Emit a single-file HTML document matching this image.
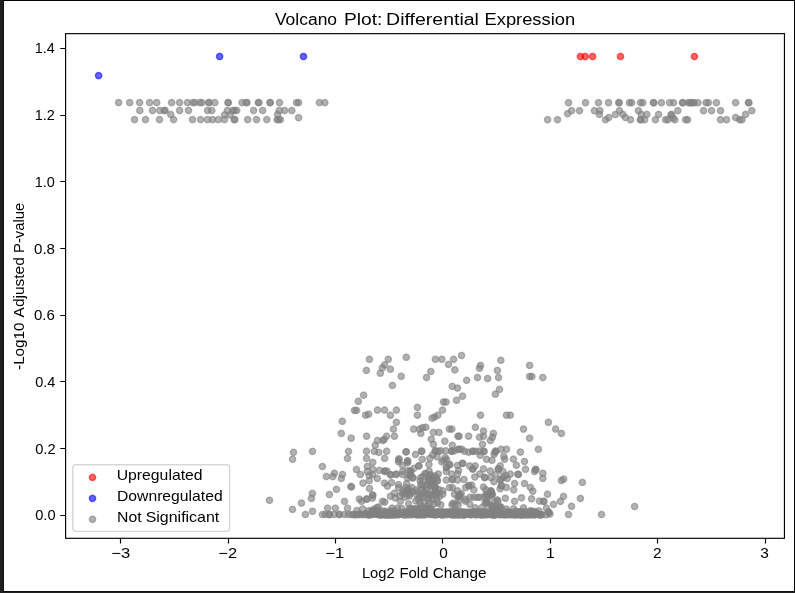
<!DOCTYPE html>
<html lang="en">
<head>
<meta charset="utf-8">
<title>Volcano Plot: Differential Expression</title>
<style>
html,body{margin:0;padding:0;background:#202020;}
body{width:795px;height:593px;overflow:hidden;}
svg{display:block;}
svg text{font-family:"Liberation Sans", sans-serif;fill:#000;}
.tx{filter:grayscale(1);}
</style>
</head>
<body>
<svg width="795" height="593" viewBox="0 0 795 593">
<!-- viewer background + image frame -->
<rect x="0" y="0" width="795" height="593" fill="#202020"/>
<rect x="3" y="0" width="792" height="592" fill="#111111"/>
<rect x="3" y="0" width="792" height="1" fill="#030303"/>
<rect x="794" y="0" width="1" height="592" fill="#030303"/>
<rect x="4" y="1" width="790" height="590" fill="#ffffff"/>

<g fill="none" stroke="#000" stroke-width="1.15">
<rect x="65.6" y="33.65" width="718.85" height="504.65"/>
<path d="M120.5 538.3v5.3M228.5 538.3v5.3M335.5 538.3v5.3M442.5 538.3v5.3M550.5 538.3v5.3M657.5 538.3v5.3M765.5 538.3v5.3M65.6 515.5h-5.3M65.6 448.5h-5.3M65.6 381.5h-5.3M65.6 315.5h-5.3M65.6 248.5h-5.3M65.6 181.5h-5.3M65.6 115.5h-5.3M65.6 48.5h-5.3"/>
</g>
<g class="tx" font-size="14.40">
<text transform="matrix(1.1508 0 0 1 111.27 557.9)">−3</text>
<text transform="matrix(1.1418 0 0 1 218.33 557.9)">−2</text>
<text transform="matrix(1.1418 0 0 1 325.33 557.9)">−1</text>
<text transform="matrix(1.0706 0 0 1 439.18 557.9)">0</text>
<text transform="matrix(1.0982 0 0 1 545.98 557.9)">1</text>
<text transform="matrix(1.0719 0 0 1 653.03 557.9)">2</text>
<text transform="matrix(1.0712 0 0 1 760.23 557.9)">3</text>
<text transform="matrix(1.0178 0 0 1 35.21 519.9)">0.0</text>
<text transform="matrix(1.0203 0 0 1 35.21 453.9)">0.2</text>
<text transform="matrix(1.0101 0 0 1 35.22 386.9)">0.4</text>
<text transform="matrix(1.0417 0 0 1 34.00 319.9)">0.6</text>
<text transform="matrix(1.0496 0 0 1 34.00 253.9)">0.8</text>
<text transform="matrix(1.0034 0 0 1 34.64 186.9)">1.0</text>
<text transform="matrix(1.0058 0 0 1 34.64 119.9)">1.2</text>
<text transform="matrix(0.9983 0 0 1 34.65 52.9)">1.4</text>
</g>
<text class="tx" y="24.75" font-size="17.3"><tspan x="274.93" textLength="62.15" lengthAdjust="spacingAndGlyphs">Volcano</tspan> <tspan x="343.96" textLength="38.49" lengthAdjust="spacingAndGlyphs">Plot:</tspan> <tspan x="386.14" textLength="92.76" lengthAdjust="spacingAndGlyphs">Differential</tspan> <tspan x="484.54" textLength="90.59" lengthAdjust="spacingAndGlyphs">Expression</tspan></text>
<text class="tx" y="577.8" font-size="14.4"><tspan x="361.92" textLength="32.78" lengthAdjust="spacingAndGlyphs">Log2</tspan> <tspan x="399.51" textLength="28.96" lengthAdjust="spacingAndGlyphs">Fold</tspan> <tspan x="432.73" textLength="53.73" lengthAdjust="spacingAndGlyphs">Change</tspan></text>
<text class="tx" transform="translate(24.0 369.3) rotate(-90)" font-size="14.4"><tspan x="-0.61" textLength="47.38" lengthAdjust="spacingAndGlyphs">-Log10</tspan> <tspan x="51.90" textLength="60.15" lengthAdjust="spacingAndGlyphs">Adjusted</tspan> <tspan x="116.42" textLength="50.08" lengthAdjust="spacingAndGlyphs">P-value</tspan></text>
<defs><radialGradient id="mg" cx=".5" cy=".5" r=".5"><stop offset="0.0000" stop-color="#808080" stop-opacity="0.600"/><stop offset="0.0556" stop-color="#808080" stop-opacity="0.600"/><stop offset="0.1111" stop-color="#808080" stop-opacity="0.600"/><stop offset="0.1667" stop-color="#808080" stop-opacity="0.600"/><stop offset="0.2222" stop-color="#808080" stop-opacity="0.600"/><stop offset="0.2778" stop-color="#808080" stop-opacity="0.600"/><stop offset="0.3333" stop-color="#808080" stop-opacity="0.600"/><stop offset="0.3889" stop-color="#808080" stop-opacity="0.600"/><stop offset="0.4444" stop-color="#808080" stop-opacity="0.623"/><stop offset="0.5000" stop-color="#808080" stop-opacity="0.683"/><stop offset="0.5556" stop-color="#808080" stop-opacity="0.748"/><stop offset="0.6111" stop-color="#808080" stop-opacity="0.774"/><stop offset="0.6667" stop-color="#808080" stop-opacity="0.743"/><stop offset="0.7222" stop-color="#808080" stop-opacity="0.669"/><stop offset="0.7778" stop-color="#808080" stop-opacity="0.507"/><stop offset="0.8333" stop-color="#808080" stop-opacity="0.325"/><stop offset="0.8889" stop-color="#808080" stop-opacity="0.162"/><stop offset="0.9444" stop-color="#808080" stop-opacity="0.033"/><stop offset="1.0000" stop-color="#808080" stop-opacity="0.000"/></radialGradient><radialGradient id="mr" cx=".5" cy=".5" r=".5"><stop offset="0.0000" stop-color="#ff0000" stop-opacity="0.600"/><stop offset="0.0556" stop-color="#ff0000" stop-opacity="0.600"/><stop offset="0.1111" stop-color="#ff0000" stop-opacity="0.600"/><stop offset="0.1667" stop-color="#ff0000" stop-opacity="0.600"/><stop offset="0.2222" stop-color="#ff0000" stop-opacity="0.600"/><stop offset="0.2778" stop-color="#ff0000" stop-opacity="0.600"/><stop offset="0.3333" stop-color="#ff0000" stop-opacity="0.600"/><stop offset="0.3889" stop-color="#ff0000" stop-opacity="0.600"/><stop offset="0.4444" stop-color="#ff0000" stop-opacity="0.623"/><stop offset="0.5000" stop-color="#ff0000" stop-opacity="0.683"/><stop offset="0.5556" stop-color="#ff0000" stop-opacity="0.748"/><stop offset="0.6111" stop-color="#ff0000" stop-opacity="0.774"/><stop offset="0.6667" stop-color="#ff0000" stop-opacity="0.743"/><stop offset="0.7222" stop-color="#ff0000" stop-opacity="0.669"/><stop offset="0.7778" stop-color="#ff0000" stop-opacity="0.507"/><stop offset="0.8333" stop-color="#ff0000" stop-opacity="0.325"/><stop offset="0.8889" stop-color="#ff0000" stop-opacity="0.162"/><stop offset="0.9444" stop-color="#ff0000" stop-opacity="0.033"/><stop offset="1.0000" stop-color="#ff0000" stop-opacity="0.000"/></radialGradient><radialGradient id="mb" cx=".5" cy=".5" r=".5"><stop offset="0.0000" stop-color="#0000ff" stop-opacity="0.600"/><stop offset="0.0556" stop-color="#0000ff" stop-opacity="0.600"/><stop offset="0.1111" stop-color="#0000ff" stop-opacity="0.600"/><stop offset="0.1667" stop-color="#0000ff" stop-opacity="0.600"/><stop offset="0.2222" stop-color="#0000ff" stop-opacity="0.600"/><stop offset="0.2778" stop-color="#0000ff" stop-opacity="0.600"/><stop offset="0.3333" stop-color="#0000ff" stop-opacity="0.600"/><stop offset="0.3889" stop-color="#0000ff" stop-opacity="0.600"/><stop offset="0.4444" stop-color="#0000ff" stop-opacity="0.623"/><stop offset="0.5000" stop-color="#0000ff" stop-opacity="0.683"/><stop offset="0.5556" stop-color="#0000ff" stop-opacity="0.748"/><stop offset="0.6111" stop-color="#0000ff" stop-opacity="0.774"/><stop offset="0.6667" stop-color="#0000ff" stop-opacity="0.743"/><stop offset="0.7222" stop-color="#0000ff" stop-opacity="0.669"/><stop offset="0.7778" stop-color="#0000ff" stop-opacity="0.507"/><stop offset="0.8333" stop-color="#0000ff" stop-opacity="0.325"/><stop offset="0.8889" stop-color="#0000ff" stop-opacity="0.162"/><stop offset="0.9444" stop-color="#0000ff" stop-opacity="0.033"/><stop offset="1.0000" stop-color="#0000ff" stop-opacity="0.000"/></radialGradient></defs>
<g class="pt" fill="url(#mr)"><circle cx="580.4" cy="56.5" r="4.5"/><circle cx="585.2" cy="56.5" r="4.5"/><circle cx="592.6" cy="56.5" r="4.5"/><circle cx="620.5" cy="56.5" r="4.5"/><circle cx="694.4" cy="56.5" r="4.5"/></g>
<g class="pt" fill="url(#mb)"><circle cx="98.6" cy="75.6" r="4.5"/><circle cx="219.6" cy="56.5" r="4.5"/><circle cx="303.5" cy="56.5" r="4.5"/></g>
<g class="pt" fill="url(#mg)"><circle cx="118.6" cy="102.6" r="4.5"/><circle cx="129.7" cy="102.6" r="4.5"/><circle cx="139.6" cy="102.6" r="4.5"/><circle cx="149.6" cy="102.6" r="4.5"/><circle cx="156.7" cy="102.6" r="4.5"/><circle cx="171.6" cy="102.6" r="4.5"/><circle cx="179.6" cy="102.6" r="4.5"/><circle cx="187.5" cy="102.6" r="4.5"/><circle cx="192.8" cy="102.6" r="4.5"/><circle cx="194.8" cy="102.6" r="4.5"/><circle cx="199.8" cy="102.6" r="4.5"/><circle cx="201.8" cy="102.6" r="4.5"/><circle cx="208.7" cy="102.6" r="4.5"/><circle cx="209.1" cy="102.6" r="4.5"/><circle cx="214.8" cy="102.6" r="4.5"/><circle cx="228.0" cy="102.6" r="4.5"/><circle cx="228.3" cy="102.6" r="4.5"/><circle cx="242.1" cy="102.6" r="4.5"/><circle cx="246.2" cy="102.6" r="4.5"/><circle cx="247.0" cy="102.6" r="4.5"/><circle cx="258.4" cy="102.6" r="4.5"/><circle cx="258.8" cy="102.6" r="4.5"/><circle cx="269.9" cy="102.6" r="4.5"/><circle cx="270.3" cy="102.6" r="4.5"/><circle cx="279.5" cy="102.6" r="4.5"/><circle cx="296.5" cy="102.6" r="4.5"/><circle cx="298.6" cy="102.6" r="4.5"/><circle cx="319.4" cy="102.6" r="4.5"/><circle cx="324.8" cy="102.6" r="4.5"/><circle cx="139.8" cy="110.5" r="4.5"/><circle cx="152.5" cy="110.5" r="4.5"/><circle cx="159.8" cy="110.5" r="4.5"/><circle cx="164.2" cy="110.5" r="4.5"/><circle cx="165.1" cy="110.5" r="4.5"/><circle cx="179.6" cy="110.5" r="4.5"/><circle cx="188.5" cy="110.5" r="4.5"/><circle cx="207.6" cy="110.5" r="4.5"/><circle cx="211.8" cy="110.5" r="4.5"/><circle cx="227.5" cy="110.5" r="4.5"/><circle cx="232.7" cy="110.5" r="4.5"/><circle cx="234.7" cy="110.5" r="4.5"/><circle cx="236.7" cy="110.5" r="4.5"/><circle cx="253.6" cy="110.5" r="4.5"/><circle cx="262.6" cy="110.5" r="4.5"/><circle cx="279.3" cy="110.5" r="4.5"/><circle cx="284.6" cy="110.5" r="4.5"/><circle cx="291.8" cy="110.5" r="4.5"/><circle cx="170.7" cy="114.5" r="4.5"/><circle cx="224.5" cy="114.9" r="4.5"/><circle cx="230.2" cy="114.9" r="4.5"/><circle cx="277.6" cy="114.4" r="4.5"/><circle cx="298.6" cy="117.7" r="4.5"/><circle cx="134.5" cy="119.6" r="4.5"/><circle cx="145.5" cy="119.6" r="4.5"/><circle cx="159.5" cy="119.6" r="4.5"/><circle cx="173.6" cy="119.6" r="4.5"/><circle cx="192.5" cy="119.6" r="4.5"/><circle cx="200.6" cy="119.6" r="4.5"/><circle cx="207.5" cy="119.6" r="4.5"/><circle cx="212.6" cy="119.6" r="4.5"/><circle cx="218.3" cy="119.6" r="4.5"/><circle cx="224.5" cy="119.6" r="4.5"/><circle cx="234.2" cy="119.6" r="4.5"/><circle cx="234.8" cy="119.6" r="4.5"/><circle cx="247.7" cy="119.6" r="4.5"/><circle cx="256.5" cy="119.6" r="4.5"/><circle cx="266.8" cy="119.6" r="4.5"/><circle cx="277.1" cy="119.6" r="4.5"/><circle cx="278.6" cy="119.6" r="4.5"/><circle cx="280.4" cy="119.6" r="4.5"/><circle cx="568.5" cy="102.7" r="4.5"/><circle cx="585.5" cy="102.7" r="4.5"/><circle cx="598.5" cy="102.7" r="4.5"/><circle cx="608.5" cy="102.7" r="4.5"/><circle cx="618.8" cy="102.7" r="4.5"/><circle cx="619.1" cy="102.7" r="4.5"/><circle cx="629.4" cy="102.7" r="4.5"/><circle cx="631.6" cy="102.7" r="4.5"/><circle cx="640.5" cy="102.7" r="4.5"/><circle cx="642.8" cy="102.7" r="4.5"/><circle cx="653.4" cy="102.7" r="4.5"/><circle cx="653.8" cy="102.7" r="4.5"/><circle cx="661.4" cy="102.7" r="4.5"/><circle cx="669.6" cy="102.7" r="4.5"/><circle cx="673.5" cy="102.7" r="4.5"/><circle cx="682.4" cy="102.7" r="4.5"/><circle cx="682.9" cy="102.7" r="4.5"/><circle cx="688.4" cy="102.7" r="4.5"/><circle cx="691.2" cy="102.7" r="4.5"/><circle cx="694.1" cy="102.7" r="4.5"/><circle cx="697.9" cy="102.7" r="4.5"/><circle cx="706.1" cy="102.7" r="4.5"/><circle cx="708.4" cy="102.7" r="4.5"/><circle cx="716.4" cy="102.7" r="4.5"/><circle cx="735.6" cy="102.7" r="4.5"/><circle cx="748.4" cy="102.7" r="4.5"/><circle cx="748.9" cy="102.7" r="4.5"/><circle cx="571.6" cy="110.7" r="4.5"/><circle cx="579.5" cy="110.7" r="4.5"/><circle cx="594.4" cy="110.7" r="4.5"/><circle cx="599.8" cy="110.7" r="4.5"/><circle cx="619.5" cy="110.7" r="4.5"/><circle cx="638.4" cy="110.7" r="4.5"/><circle cx="677.8" cy="110.7" r="4.5"/><circle cx="703.5" cy="110.7" r="4.5"/><circle cx="711.5" cy="110.7" r="4.5"/><circle cx="720.5" cy="110.7" r="4.5"/><circle cx="751.8" cy="110.7" r="4.5"/><circle cx="567.6" cy="113.7" r="4.5"/><circle cx="599.4" cy="114.4" r="4.5"/><circle cx="615.4" cy="114.5" r="4.5"/><circle cx="622.8" cy="114.4" r="4.5"/><circle cx="608.8" cy="117.5" r="4.5"/><circle cx="605.5" cy="119.7" r="4.5"/><circle cx="547.6" cy="119.7" r="4.5"/><circle cx="557.5" cy="119.7" r="4.5"/><circle cx="625.4" cy="117.5" r="4.5"/><circle cx="630.5" cy="119.7" r="4.5"/><circle cx="641.2" cy="114.4" r="4.5"/><circle cx="646.8" cy="114.4" r="4.5"/><circle cx="640.4" cy="119.7" r="4.5"/><circle cx="640.8" cy="119.7" r="4.5"/><circle cx="644.6" cy="119.7" r="4.5"/><circle cx="658.6" cy="114.4" r="4.5"/><circle cx="655.4" cy="119.7" r="4.5"/><circle cx="665.6" cy="119.7" r="4.5"/><circle cx="667.9" cy="119.7" r="4.5"/><circle cx="671.1" cy="114.6" r="4.5"/><circle cx="671.5" cy="114.6" r="4.5"/><circle cx="673.0" cy="118.0" r="4.5"/><circle cx="674.8" cy="119.7" r="4.5"/><circle cx="685.6" cy="119.7" r="4.5"/><circle cx="687.6" cy="119.7" r="4.5"/><circle cx="745.6" cy="114.4" r="4.5"/><circle cx="735.6" cy="117.5" r="4.5"/><circle cx="720.5" cy="119.7" r="4.5"/><circle cx="726.5" cy="119.7" r="4.5"/><circle cx="739.6" cy="119.7" r="4.5"/><circle cx="741.9" cy="119.7" r="4.5"/><circle cx="369.4" cy="359.3" r="4.5"/><circle cx="388.3" cy="359.3" r="4.5"/><circle cx="406.3" cy="357.3" r="4.5"/><circle cx="435.4" cy="359.3" r="4.5"/><circle cx="441.8" cy="359.3" r="4.5"/><circle cx="453.6" cy="359.3" r="4.5"/><circle cx="384.6" cy="364.9" r="4.5"/><circle cx="448.5" cy="364.4" r="4.5"/><circle cx="382.3" cy="367.9" r="4.5"/><circle cx="366.4" cy="370.4" r="4.5"/><circle cx="390.4" cy="369.2" r="4.5"/><circle cx="380.3" cy="373.2" r="4.5"/><circle cx="430.8" cy="371.5" r="4.5"/><circle cx="454.8" cy="369.9" r="4.5"/><circle cx="401.2" cy="376.3" r="4.5"/><circle cx="426.5" cy="377.5" r="4.5"/><circle cx="392.4" cy="385.4" r="4.5"/><circle cx="452.3" cy="386.4" r="4.5"/><circle cx="363.6" cy="395.2" r="4.5"/><circle cx="358.3" cy="401.3" r="4.5"/><circle cx="443.5" cy="402.0" r="4.5"/><circle cx="446.0" cy="402.0" r="4.5"/><circle cx="354.5" cy="410.4" r="4.5"/><circle cx="356.5" cy="410.4" r="4.5"/><circle cx="377.5" cy="410.1" r="4.5"/><circle cx="384.6" cy="410.1" r="4.5"/><circle cx="396.4" cy="410.1" r="4.5"/><circle cx="417.4" cy="407.4" r="4.5"/><circle cx="442.5" cy="410.1" r="4.5"/><circle cx="365.6" cy="415.2" r="4.5"/><circle cx="368.6" cy="414.2" r="4.5"/><circle cx="390.4" cy="415.2" r="4.5"/><circle cx="417.4" cy="415.2" r="4.5"/><circle cx="437.8" cy="415.2" r="4.5"/><circle cx="434.6" cy="417.0" r="4.5"/><circle cx="432.1" cy="418.2" r="4.5"/><circle cx="342.3" cy="421.3" r="4.5"/><circle cx="396.4" cy="422.3" r="4.5"/><circle cx="393.4" cy="429.1" r="4.5"/><circle cx="413.6" cy="429.1" r="4.5"/><circle cx="419.5" cy="429.1" r="4.5"/><circle cx="422.5" cy="427.6" r="4.5"/><circle cx="425.8" cy="427.3" r="4.5"/><circle cx="420.8" cy="433.4" r="4.5"/><circle cx="433.4" cy="432.4" r="4.5"/><circle cx="438.9" cy="432.4" r="4.5"/><circle cx="449.3" cy="429.1" r="4.5"/><circle cx="451.8" cy="429.1" r="4.5"/><circle cx="341.3" cy="433.4" r="4.5"/><circle cx="351.2" cy="438.2" r="4.5"/><circle cx="366.6" cy="436.2" r="4.5"/><circle cx="386.6" cy="436.2" r="4.5"/><circle cx="394.4" cy="436.2" r="4.5"/><circle cx="377.5" cy="440.5" r="4.5"/><circle cx="384.0" cy="439.5" r="4.5"/><circle cx="382.8" cy="440.5" r="4.5"/><circle cx="431.3" cy="439.2" r="4.5"/><circle cx="444.8" cy="441.2" r="4.5"/><circle cx="375.2" cy="445.3" r="4.5"/><circle cx="433.4" cy="444.3" r="4.5"/><circle cx="452.3" cy="445.3" r="4.5"/><circle cx="461.5" cy="355.5" r="4.5"/><circle cx="500.8" cy="360.3" r="4.5"/><circle cx="480.5" cy="365.4" r="4.5"/><circle cx="479.5" cy="368.2" r="4.5"/><circle cx="529.6" cy="365.4" r="4.5"/><circle cx="497.4" cy="370.4" r="4.5"/><circle cx="477.5" cy="377.5" r="4.5"/><circle cx="487.6" cy="378.5" r="4.5"/><circle cx="498.5" cy="377.5" r="4.5"/><circle cx="529.6" cy="376.5" r="4.5"/><circle cx="531.9" cy="376.5" r="4.5"/><circle cx="542.8" cy="377.5" r="4.5"/><circle cx="466.6" cy="380.3" r="4.5"/><circle cx="457.5" cy="388.1" r="4.5"/><circle cx="499.5" cy="389.4" r="4.5"/><circle cx="495.4" cy="394.2" r="4.5"/><circle cx="462.5" cy="396.2" r="4.5"/><circle cx="456.5" cy="400.3" r="4.5"/><circle cx="480.5" cy="415.2" r="4.5"/><circle cx="506.5" cy="415.2" r="4.5"/><circle cx="510.3" cy="415.2" r="4.5"/><circle cx="548.4" cy="422.3" r="4.5"/><circle cx="475.4" cy="427.3" r="4.5"/><circle cx="523.5" cy="429.1" r="4.5"/><circle cx="555.6" cy="429.1" r="4.5"/><circle cx="483.5" cy="431.1" r="4.5"/><circle cx="493.4" cy="433.4" r="4.5"/><circle cx="561.4" cy="433.4" r="4.5"/><circle cx="457.9" cy="436.2" r="4.5"/><circle cx="459.1" cy="436.2" r="4.5"/><circle cx="468.6" cy="436.2" r="4.5"/><circle cx="479.5" cy="437.2" r="4.5"/><circle cx="483.5" cy="436.2" r="4.5"/><circle cx="492.4" cy="437.2" r="4.5"/><circle cx="529.6" cy="438.2" r="4.5"/><circle cx="490.4" cy="440.5" r="4.5"/><circle cx="482.5" cy="444.3" r="4.5"/><circle cx="538.4" cy="449.3" r="4.5"/><circle cx="520.4" cy="452.1" r="4.5"/><circle cx="506.5" cy="449.3" r="4.5"/><circle cx="501.2" cy="449.3" r="4.5"/><circle cx="524.5" cy="461.5" r="4.5"/><circle cx="513.4" cy="459.2" r="4.5"/><circle cx="516.4" cy="465.3" r="4.5"/><circle cx="525.5" cy="469.3" r="4.5"/><circle cx="542.8" cy="473.3" r="4.5"/><circle cx="542.8" cy="478.4" r="4.5"/><circle cx="561.4" cy="480.5" r="4.5"/><circle cx="563.6" cy="479.1" r="4.5"/><circle cx="582.4" cy="482.4" r="4.5"/><circle cx="524.5" cy="483.5" r="4.5"/><circle cx="530.4" cy="487.5" r="4.5"/><circle cx="514.6" cy="483.5" r="4.5"/><circle cx="517.8" cy="474.1" r="4.5"/><circle cx="518.5" cy="474.5" r="4.5"/><circle cx="510.3" cy="474.1" r="4.5"/><circle cx="293.5" cy="452.3" r="4.5"/><circle cx="292.5" cy="459.2" r="4.5"/><circle cx="312.5" cy="451.4" r="4.5"/><circle cx="348.5" cy="451.4" r="4.5"/><circle cx="347.5" cy="458.4" r="4.5"/><circle cx="322.4" cy="466.5" r="4.5"/><circle cx="356.4" cy="469.5" r="4.5"/><circle cx="360.4" cy="474.5" r="4.5"/><circle cx="334.4" cy="473.3" r="4.5"/><circle cx="332.8" cy="476.6" r="4.5"/><circle cx="326.4" cy="476.5" r="4.5"/><circle cx="342.5" cy="474.5" r="4.5"/><circle cx="341.3" cy="478.4" r="4.5"/><circle cx="363.0" cy="483.1" r="4.5"/><circle cx="350.9" cy="486.5" r="4.5"/><circle cx="351.5" cy="486.9" r="4.5"/><circle cx="336.4" cy="489.4" r="4.5"/><circle cx="329.4" cy="494.5" r="4.5"/><circle cx="312.4" cy="493.4" r="4.5"/><circle cx="311.4" cy="498.4" r="4.5"/><circle cx="269.5" cy="500.3" r="4.5"/><circle cx="301.5" cy="503.1" r="4.5"/><circle cx="292.5" cy="509.4" r="4.5"/><circle cx="305.4" cy="514.5" r="4.5"/><circle cx="312.5" cy="511.3" r="4.5"/><circle cx="344.5" cy="501.4" r="4.5"/><circle cx="359.4" cy="499.1" r="4.5"/><circle cx="361.6" cy="501.3" r="4.5"/><circle cx="366.5" cy="499.4" r="4.5"/><circle cx="327.6" cy="508.2" r="4.5"/><circle cx="335.4" cy="508.2" r="4.5"/><circle cx="347.5" cy="508.2" r="4.5"/><circle cx="356.9" cy="510.6" r="4.5"/><circle cx="362.6" cy="508.9" r="4.5"/><circle cx="368.5" cy="510.8" r="4.5"/><circle cx="376.6" cy="507.8" r="4.5"/><circle cx="372.5" cy="495.1" r="4.5"/><circle cx="372.5" cy="498.1" r="4.5"/><circle cx="366.5" cy="451.2" r="4.5"/><circle cx="374.3" cy="451.4" r="4.5"/><circle cx="378.8" cy="452.4" r="4.5"/><circle cx="386.6" cy="451.2" r="4.5"/><circle cx="405.9" cy="451.8" r="4.5"/><circle cx="406.3" cy="451.8" r="4.5"/><circle cx="421.4" cy="451.2" r="4.5"/><circle cx="421.8" cy="451.2" r="4.5"/><circle cx="415.5" cy="454.5" r="4.5"/><circle cx="366.5" cy="458.3" r="4.5"/><circle cx="384.6" cy="458.3" r="4.5"/><circle cx="422.3" cy="459.3" r="4.5"/><circle cx="399.0" cy="458.8" r="4.5"/><circle cx="398.5" cy="461.8" r="4.5"/><circle cx="407.6" cy="460.6" r="4.5"/><circle cx="407.6" cy="462.6" r="4.5"/><circle cx="372.8" cy="462.4" r="4.5"/><circle cx="367.4" cy="466.4" r="4.5"/><circle cx="402.6" cy="465.4" r="4.5"/><circle cx="418.6" cy="465.9" r="4.5"/><circle cx="419.0" cy="465.9" r="4.5"/><circle cx="429.9" cy="458.3" r="4.5"/><circle cx="428.9" cy="464.4" r="4.5"/><circle cx="372.8" cy="469.4" r="4.5"/><circle cx="379.3" cy="470.4" r="4.5"/><circle cx="367.2" cy="471.5" r="4.5"/><circle cx="384.4" cy="471.0" r="4.5"/><circle cx="386.9" cy="471.0" r="4.5"/><circle cx="390.4" cy="474.5" r="4.5"/><circle cx="396.0" cy="474.5" r="4.5"/><circle cx="402.6" cy="471.5" r="4.5"/><circle cx="402.6" cy="474.5" r="4.5"/><circle cx="413.8" cy="468.4" r="4.5"/><circle cx="410.8" cy="471.5" r="4.5"/><circle cx="409.8" cy="475.5" r="4.5"/><circle cx="412.8" cy="478.0" r="4.5"/><circle cx="369.2" cy="475.5" r="4.5"/><circle cx="372.8" cy="474.5" r="4.5"/><circle cx="377.3" cy="478.5" r="4.5"/><circle cx="369.2" cy="480.6" r="4.5"/><circle cx="384.4" cy="483.1" r="4.5"/><circle cx="391.5" cy="482.6" r="4.5"/><circle cx="387.4" cy="486.1" r="4.5"/><circle cx="398.5" cy="484.6" r="4.5"/><circle cx="398.5" cy="487.6" r="4.5"/><circle cx="406.6" cy="483.6" r="4.5"/><circle cx="405.6" cy="487.6" r="4.5"/><circle cx="369.5" cy="488.5" r="4.5"/><circle cx="424.8" cy="473.5" r="4.5"/><circle cx="420.8" cy="477.5" r="4.5"/><circle cx="428.9" cy="478.5" r="4.5"/><circle cx="420.8" cy="484.6" r="4.5"/><circle cx="426.9" cy="484.6" r="4.5"/><circle cx="394.5" cy="493.2" r="4.5"/><circle cx="390.4" cy="496.2" r="4.5"/><circle cx="372.8" cy="495.2" r="4.5"/><circle cx="366.8" cy="498.8" r="4.5"/><circle cx="404.6" cy="493.8" r="4.5"/><circle cx="410.1" cy="493.1" r="4.5"/><circle cx="400.1" cy="496.1" r="4.5"/><circle cx="411.8" cy="487.6" r="4.5"/><circle cx="422.8" cy="493.8" r="4.5"/><circle cx="416.8" cy="489.8" r="4.5"/><circle cx="384.8" cy="471.4" r="4.5"/><circle cx="390.8" cy="474.9" r="4.5"/><circle cx="396.3" cy="474.1" r="4.5"/><circle cx="410.3" cy="471.1" r="4.5"/><circle cx="410.0" cy="475.9" r="4.5"/><circle cx="413.0" cy="477.6" r="4.5"/><circle cx="435.2" cy="450.8" r="4.5"/><circle cx="435.5" cy="451.0" r="4.5"/><circle cx="438.3" cy="451.2" r="4.5"/><circle cx="440.8" cy="450.8" r="4.5"/><circle cx="445.8" cy="450.8" r="4.5"/><circle cx="451.4" cy="451.2" r="4.5"/><circle cx="451.8" cy="451.4" r="4.5"/><circle cx="454.4" cy="450.8" r="4.5"/><circle cx="458.5" cy="449.2" r="4.5"/><circle cx="458.8" cy="449.4" r="4.5"/><circle cx="461.5" cy="449.2" r="4.5"/><circle cx="464.5" cy="451.2" r="4.5"/><circle cx="468.6" cy="452.2" r="4.5"/><circle cx="472.6" cy="451.2" r="4.5"/><circle cx="472.9" cy="451.4" r="4.5"/><circle cx="475.8" cy="451.2" r="4.5"/><circle cx="479.8" cy="451.2" r="4.5"/><circle cx="483.8" cy="451.2" r="4.5"/><circle cx="484.0" cy="451.5" r="4.5"/><circle cx="432.8" cy="454.8" r="4.5"/><circle cx="437.2" cy="456.8" r="4.5"/><circle cx="480.2" cy="455.3" r="4.5"/><circle cx="494.9" cy="452.2" r="4.5"/><circle cx="445.3" cy="457.6" r="4.5"/><circle cx="446.6" cy="459.8" r="4.5"/><circle cx="443.8" cy="460.3" r="4.5"/><circle cx="486.5" cy="459.3" r="4.5"/><circle cx="491.9" cy="460.3" r="4.5"/><circle cx="441.8" cy="461.8" r="4.5"/><circle cx="449.4" cy="464.4" r="4.5"/><circle cx="449.8" cy="464.8" r="4.5"/><circle cx="446.3" cy="467.4" r="4.5"/><circle cx="446.6" cy="467.6" r="4.5"/><circle cx="462.3" cy="463.4" r="4.5"/><circle cx="462.8" cy="463.4" r="4.5"/><circle cx="457.5" cy="465.4" r="4.5"/><circle cx="469.6" cy="465.9" r="4.5"/><circle cx="475.2" cy="465.9" r="4.5"/><circle cx="472.6" cy="468.9" r="4.5"/><circle cx="472.9" cy="469.1" r="4.5"/><circle cx="446.3" cy="471.5" r="4.5"/><circle cx="458.5" cy="470.4" r="4.5"/><circle cx="457.5" cy="474.0" r="4.5"/><circle cx="451.6" cy="474.0" r="4.5"/><circle cx="483.5" cy="468.9" r="4.5"/><circle cx="490.3" cy="471.0" r="4.5"/><circle cx="479.8" cy="474.0" r="4.5"/><circle cx="429.1" cy="471.0" r="4.5"/><circle cx="438.3" cy="474.0" r="4.5"/><circle cx="430.2" cy="475.0" r="4.5"/><circle cx="430.5" cy="475.2" r="4.5"/><circle cx="426.1" cy="474.0" r="4.5"/><circle cx="474.8" cy="477.0" r="4.5"/><circle cx="484.6" cy="477.5" r="4.5"/><circle cx="485.0" cy="477.5" r="4.5"/><circle cx="490.8" cy="477.5" r="4.5"/><circle cx="446.3" cy="480.1" r="4.5"/><circle cx="452.2" cy="479.5" r="4.5"/><circle cx="452.6" cy="479.5" r="4.5"/><circle cx="457.5" cy="480.1" r="4.5"/><circle cx="464.0" cy="479.5" r="4.5"/><circle cx="432.2" cy="479.5" r="4.5"/><circle cx="432.5" cy="479.3" r="4.5"/><circle cx="431.9" cy="479.8" r="4.5"/><circle cx="437.2" cy="480.6" r="4.5"/><circle cx="437.4" cy="480.9" r="4.5"/><circle cx="428.1" cy="480.6" r="4.5"/><circle cx="428.4" cy="480.4" r="4.5"/><circle cx="493.9" cy="481.6" r="4.5"/><circle cx="468.6" cy="485.6" r="4.5"/><circle cx="468.9" cy="485.8" r="4.5"/><circle cx="471.6" cy="485.1" r="4.5"/><circle cx="465.6" cy="487.6" r="4.5"/><circle cx="473.8" cy="489.8" r="4.5"/><circle cx="449.4" cy="487.6" r="4.5"/><circle cx="452.4" cy="487.6" r="4.5"/><circle cx="483.5" cy="487.1" r="4.5"/><circle cx="485.8" cy="489.8" r="4.5"/><circle cx="490.8" cy="490.8" r="4.5"/><circle cx="491.0" cy="491.0" r="4.5"/><circle cx="435.2" cy="487.6" r="4.5"/><circle cx="435.5" cy="487.8" r="4.5"/><circle cx="430.2" cy="485.6" r="4.5"/><circle cx="430.5" cy="485.8" r="4.5"/><circle cx="442.8" cy="490.8" r="4.5"/><circle cx="442.8" cy="494.2" r="4.5"/><circle cx="457.5" cy="490.8" r="4.5"/><circle cx="454.4" cy="494.2" r="4.5"/><circle cx="459.5" cy="494.8" r="4.5"/><circle cx="436.2" cy="494.8" r="4.5"/><circle cx="431.2" cy="494.8" r="4.5"/><circle cx="485.8" cy="494.8" r="4.5"/><circle cx="491.9" cy="494.8" r="4.5"/><circle cx="465.6" cy="499.3" r="4.5"/><circle cx="495.5" cy="451.2" r="4.5"/><circle cx="495.9" cy="451.2" r="4.5"/><circle cx="494.1" cy="454.3" r="4.5"/><circle cx="503.8" cy="456.3" r="4.5"/><circle cx="504.6" cy="459.3" r="4.5"/><circle cx="500.2" cy="465.9" r="4.5"/><circle cx="498.2" cy="468.9" r="4.5"/><circle cx="498.5" cy="469.1" r="4.5"/><circle cx="535.6" cy="469.4" r="4.5"/><circle cx="535.9" cy="469.6" r="4.5"/><circle cx="534.6" cy="471.5" r="4.5"/><circle cx="502.8" cy="471.5" r="4.5"/><circle cx="495.8" cy="474.5" r="4.5"/><circle cx="505.8" cy="475.5" r="4.5"/><circle cx="500.2" cy="479.5" r="4.5"/><circle cx="500.5" cy="479.8" r="4.5"/><circle cx="507.3" cy="478.5" r="4.5"/><circle cx="503.3" cy="477.5" r="4.5"/><circle cx="501.2" cy="485.6" r="4.5"/><circle cx="501.5" cy="485.8" r="4.5"/><circle cx="506.3" cy="487.4" r="4.5"/><circle cx="500.2" cy="488.8" r="4.5"/><circle cx="513.6" cy="489.8" r="4.5"/><circle cx="532.8" cy="491.2" r="4.5"/><circle cx="547.5" cy="494.2" r="4.5"/><circle cx="491.1" cy="491.8" r="4.5"/><circle cx="491.6" cy="494.8" r="4.5"/><circle cx="505.3" cy="498.3" r="4.5"/><circle cx="521.5" cy="497.8" r="4.5"/><circle cx="531.6" cy="498.8" r="4.5"/><circle cx="514.6" cy="501.3" r="4.5"/><circle cx="539.5" cy="501.1" r="4.5"/><circle cx="543.5" cy="501.4" r="4.5"/><circle cx="543.9" cy="501.4" r="4.5"/><circle cx="497.2" cy="499.8" r="4.5"/><circle cx="563.5" cy="496.4" r="4.5"/><circle cx="580.4" cy="498.4" r="4.5"/><circle cx="560.4" cy="501.4" r="4.5"/><circle cx="553.5" cy="504.4" r="4.5"/><circle cx="571.5" cy="506.3" r="4.5"/><circle cx="634.6" cy="506.5" r="4.5"/><circle cx="546.4" cy="508.1" r="4.5"/><circle cx="548.6" cy="511.8" r="4.5"/><circle cx="549.9" cy="514.0" r="4.5"/><circle cx="568.5" cy="514.5" r="4.5"/><circle cx="601.5" cy="514.5" r="4.5"/><circle cx="541.6" cy="514.4" r="4.5"/><circle cx="546.1" cy="514.8" r="4.5"/><circle cx="470.2" cy="497.3" r="4.5"/><circle cx="473.8" cy="497.3" r="4.5"/><circle cx="477.3" cy="497.3" r="4.5"/><circle cx="479.8" cy="497.3" r="4.5"/><circle cx="497.9" cy="501.2" r="4.5"/><circle cx="494.4" cy="501.8" r="4.5"/><circle cx="487.3" cy="494.1" r="4.5"/><circle cx="487.6" cy="494.4" r="4.5"/><circle cx="492.4" cy="494.1" r="4.5"/><circle cx="486.3" cy="502.2" r="4.5"/><circle cx="486.6" cy="502.4" r="4.5"/><circle cx="465.2" cy="501.2" r="4.5"/><circle cx="469.8" cy="504.2" r="4.5"/><circle cx="475.3" cy="507.8" r="4.5"/><circle cx="459.2" cy="496.1" r="4.5"/><circle cx="461.2" cy="493.6" r="4.5"/><circle cx="506.4" cy="509.2" r="4.5"/><circle cx="513.5" cy="508.8" r="4.5"/><circle cx="523.5" cy="507.8" r="4.5"/><circle cx="482.3" cy="507.2" r="4.5"/><circle cx="499.4" cy="506.8" r="4.5"/><circle cx="499.6" cy="507.0" r="4.5"/><circle cx="492.4" cy="505.8" r="4.5"/><circle cx="492.8" cy="505.9" r="4.5"/><circle cx="453.1" cy="503.1" r="4.5"/><circle cx="458.1" cy="505.1" r="4.5"/><circle cx="530.6" cy="510.8" r="4.5"/><circle cx="538.8" cy="510.8" r="4.5"/><circle cx="322.4" cy="514.5" r="4.5"/><circle cx="325.3" cy="514.5" r="4.5"/><circle cx="329.1" cy="514.5" r="4.5"/><circle cx="329.5" cy="514.5" r="4.5"/><circle cx="333.9" cy="514.5" r="4.5"/><circle cx="339.1" cy="514.5" r="4.5"/><circle cx="339.5" cy="514.5" r="4.5"/><circle cx="344.4" cy="514.5" r="4.5"/><circle cx="348.4" cy="514.5" r="4.5"/><circle cx="351.6" cy="514.5" r="4.5"/><circle cx="353.5" cy="514.5" r="4.5"/><circle cx="355.4" cy="514.9" r="4.5"/><circle cx="357.3" cy="514.5" r="4.5"/><circle cx="359.2" cy="514.5" r="4.5"/><circle cx="361.1" cy="514.6" r="4.5"/><circle cx="363.0" cy="514.4" r="4.5"/><circle cx="364.9" cy="514.6" r="4.5"/><circle cx="366.2" cy="513.8" r="4.5"/><circle cx="367.0" cy="513.8" r="4.5"/><circle cx="368.4" cy="514.8" r="4.5"/><circle cx="369.0" cy="515.2" r="4.5"/><circle cx="370.8" cy="514.6" r="4.5"/><circle cx="371.6" cy="513.9" r="4.5"/><circle cx="372.3" cy="514.4" r="4.5"/><circle cx="373.4" cy="513.9" r="4.5"/><circle cx="374.6" cy="513.6" r="4.5"/><circle cx="375.9" cy="514.2" r="4.5"/><circle cx="377.2" cy="514.4" r="4.5"/><circle cx="378.2" cy="514.4" r="4.5"/><circle cx="379.3" cy="514.4" r="4.5"/><circle cx="380.2" cy="515.2" r="4.5"/><circle cx="381.8" cy="514.9" r="4.5"/><circle cx="382.6" cy="514.0" r="4.5"/><circle cx="383.4" cy="514.0" r="4.5"/><circle cx="384.4" cy="514.9" r="4.5"/><circle cx="385.8" cy="514.9" r="4.5"/><circle cx="386.8" cy="515.1" r="4.5"/><circle cx="388.2" cy="513.5" r="4.5"/><circle cx="388.9" cy="515.0" r="4.5"/><circle cx="390.2" cy="515.2" r="4.5"/><circle cx="391.2" cy="513.6" r="4.5"/><circle cx="392.5" cy="514.9" r="4.5"/><circle cx="393.4" cy="513.6" r="4.5"/><circle cx="394.5" cy="515.1" r="4.5"/><circle cx="395.9" cy="513.8" r="4.5"/><circle cx="396.6" cy="513.8" r="4.5"/><circle cx="397.6" cy="514.9" r="4.5"/><circle cx="398.8" cy="514.5" r="4.5"/><circle cx="400.1" cy="513.9" r="4.5"/><circle cx="401.3" cy="513.8" r="4.5"/><circle cx="402.4" cy="513.8" r="4.5"/><circle cx="403.4" cy="513.9" r="4.5"/><circle cx="404.4" cy="515.2" r="4.5"/><circle cx="405.8" cy="514.0" r="4.5"/><circle cx="406.9" cy="513.9" r="4.5"/><circle cx="407.8" cy="515.0" r="4.5"/><circle cx="409.0" cy="513.8" r="4.5"/><circle cx="410.3" cy="513.9" r="4.5"/><circle cx="411.0" cy="514.9" r="4.5"/><circle cx="412.1" cy="514.0" r="4.5"/><circle cx="413.0" cy="513.8" r="4.5"/><circle cx="414.4" cy="513.9" r="4.5"/><circle cx="415.6" cy="514.1" r="4.5"/><circle cx="416.6" cy="515.1" r="4.5"/><circle cx="417.8" cy="514.5" r="4.5"/><circle cx="419.0" cy="513.9" r="4.5"/><circle cx="419.8" cy="515.0" r="4.5"/><circle cx="421.2" cy="513.9" r="4.5"/><circle cx="421.9" cy="514.9" r="4.5"/><circle cx="423.5" cy="513.9" r="4.5"/><circle cx="424.6" cy="515.0" r="4.5"/><circle cx="425.5" cy="514.2" r="4.5"/><circle cx="426.3" cy="513.6" r="4.5"/><circle cx="427.9" cy="513.9" r="4.5"/><circle cx="428.8" cy="513.9" r="4.5"/><circle cx="430.0" cy="514.5" r="4.5"/><circle cx="430.8" cy="513.9" r="4.5"/><circle cx="432.1" cy="513.6" r="4.5"/><circle cx="432.9" cy="514.5" r="4.5"/><circle cx="434.4" cy="514.5" r="4.5"/><circle cx="435.2" cy="515.1" r="4.5"/><circle cx="436.2" cy="513.5" r="4.5"/><circle cx="437.4" cy="514.4" r="4.5"/><circle cx="438.3" cy="513.9" r="4.5"/><circle cx="439.6" cy="514.5" r="4.5"/><circle cx="440.6" cy="514.1" r="4.5"/><circle cx="442.1" cy="515.2" r="4.5"/><circle cx="443.1" cy="514.8" r="4.5"/><circle cx="444.2" cy="513.8" r="4.5"/><circle cx="444.9" cy="513.5" r="4.5"/><circle cx="446.5" cy="514.8" r="4.5"/><circle cx="447.8" cy="513.5" r="4.5"/><circle cx="448.6" cy="514.4" r="4.5"/><circle cx="449.8" cy="514.0" r="4.5"/><circle cx="451.0" cy="513.6" r="4.5"/><circle cx="451.8" cy="514.9" r="4.5"/><circle cx="453.1" cy="514.9" r="4.5"/><circle cx="454.1" cy="514.9" r="4.5"/><circle cx="455.3" cy="514.1" r="4.5"/><circle cx="456.3" cy="515.0" r="4.5"/><circle cx="457.5" cy="514.2" r="4.5"/><circle cx="458.6" cy="515.0" r="4.5"/><circle cx="459.5" cy="514.6" r="4.5"/><circle cx="460.5" cy="514.5" r="4.5"/><circle cx="461.8" cy="513.6" r="4.5"/><circle cx="462.9" cy="515.2" r="4.5"/><circle cx="464.1" cy="514.8" r="4.5"/><circle cx="464.9" cy="514.8" r="4.5"/><circle cx="466.1" cy="514.2" r="4.5"/><circle cx="467.4" cy="513.6" r="4.5"/><circle cx="468.5" cy="513.6" r="4.5"/><circle cx="469.5" cy="514.4" r="4.5"/><circle cx="470.3" cy="514.8" r="4.5"/><circle cx="471.6" cy="514.5" r="4.5"/><circle cx="473.0" cy="513.9" r="4.5"/><circle cx="473.5" cy="514.0" r="4.5"/><circle cx="475.0" cy="513.9" r="4.5"/><circle cx="475.8" cy="515.0" r="4.5"/><circle cx="477.2" cy="514.4" r="4.5"/><circle cx="478.4" cy="514.1" r="4.5"/><circle cx="479.4" cy="513.9" r="4.5"/><circle cx="480.4" cy="514.9" r="4.5"/><circle cx="481.8" cy="515.0" r="4.5"/><circle cx="482.5" cy="514.5" r="4.5"/><circle cx="483.6" cy="513.8" r="4.5"/><circle cx="484.8" cy="514.9" r="4.5"/><circle cx="486.1" cy="514.8" r="4.5"/><circle cx="487.3" cy="514.0" r="4.5"/><circle cx="487.9" cy="514.4" r="4.5"/><circle cx="489.1" cy="513.9" r="4.5"/><circle cx="490.2" cy="514.6" r="4.5"/><circle cx="491.4" cy="514.0" r="4.5"/><circle cx="492.8" cy="515.2" r="4.5"/><circle cx="493.6" cy="513.6" r="4.5"/><circle cx="494.4" cy="515.0" r="4.5"/><circle cx="495.5" cy="514.8" r="4.5"/><circle cx="496.9" cy="514.0" r="4.5"/><circle cx="498.2" cy="513.5" r="4.5"/><circle cx="498.9" cy="514.4" r="4.5"/><circle cx="499.9" cy="514.9" r="4.5"/><circle cx="501.1" cy="513.8" r="4.5"/><circle cx="502.1" cy="514.6" r="4.5"/><circle cx="503.5" cy="514.6" r="4.5"/><circle cx="504.8" cy="514.9" r="4.5"/><circle cx="506.0" cy="514.8" r="4.5"/><circle cx="506.6" cy="514.4" r="4.5"/><circle cx="507.8" cy="513.5" r="4.5"/><circle cx="509.0" cy="514.8" r="4.5"/><circle cx="509.9" cy="514.0" r="4.5"/><circle cx="511.1" cy="514.8" r="4.5"/><circle cx="512.4" cy="514.5" r="4.5"/><circle cx="513.6" cy="514.2" r="4.5"/><circle cx="514.8" cy="515.0" r="4.5"/><circle cx="515.4" cy="515.1" r="4.5"/><circle cx="516.9" cy="513.8" r="4.5"/><circle cx="517.9" cy="514.6" r="4.5"/><circle cx="519.1" cy="514.1" r="4.5"/><circle cx="520.0" cy="515.0" r="4.5"/><circle cx="521.4" cy="515.1" r="4.5"/><circle cx="522.2" cy="514.6" r="4.5"/><circle cx="523.1" cy="514.8" r="4.5"/><circle cx="524.6" cy="514.6" r="4.5"/><circle cx="525.6" cy="513.9" r="4.5"/><circle cx="526.9" cy="515.2" r="4.5"/><circle cx="528.0" cy="514.4" r="4.5"/><circle cx="529.0" cy="514.0" r="4.5"/><circle cx="530.1" cy="515.0" r="4.5"/><circle cx="530.9" cy="513.6" r="4.5"/><circle cx="532.1" cy="514.4" r="4.5"/><circle cx="533.4" cy="514.4" r="4.5"/><circle cx="534.0" cy="514.9" r="4.5"/><circle cx="535.1" cy="514.9" r="4.5"/><circle cx="536.4" cy="514.1" r="4.5"/><circle cx="537.9" cy="513.8" r="4.5"/><circle cx="538.5" cy="514.4" r="4.5"/><circle cx="539.9" cy="514.9" r="4.5"/><circle cx="541.0" cy="515.1" r="4.5"/><circle cx="408.1" cy="512.4" r="4.5"/><circle cx="409.4" cy="511.8" r="4.5"/><circle cx="411.3" cy="511.8" r="4.5"/><circle cx="413.1" cy="512.1" r="4.5"/><circle cx="414.5" cy="512.4" r="4.5"/><circle cx="416.1" cy="511.8" r="4.5"/><circle cx="417.6" cy="512.4" r="4.5"/><circle cx="419.6" cy="511.8" r="4.5"/><circle cx="421.2" cy="512.5" r="4.5"/><circle cx="422.5" cy="512.1" r="4.5"/><circle cx="423.9" cy="512.0" r="4.5"/><circle cx="425.8" cy="512.1" r="4.5"/><circle cx="426.9" cy="512.5" r="4.5"/><circle cx="428.9" cy="511.9" r="4.5"/><circle cx="430.8" cy="512.1" r="4.5"/><circle cx="432.1" cy="512.2" r="4.5"/><circle cx="433.4" cy="512.0" r="4.5"/><circle cx="435.2" cy="512.5" r="4.5"/><circle cx="437.2" cy="511.8" r="4.5"/><circle cx="438.5" cy="511.6" r="4.5"/><circle cx="440.0" cy="512.4" r="4.5"/><circle cx="442.0" cy="512.0" r="4.5"/><circle cx="443.2" cy="511.8" r="4.5"/><circle cx="445.0" cy="512.4" r="4.5"/><circle cx="446.2" cy="512.4" r="4.5"/><circle cx="447.8" cy="511.8" r="4.5"/><circle cx="449.5" cy="512.2" r="4.5"/><circle cx="451.2" cy="511.9" r="4.5"/><circle cx="453.0" cy="511.6" r="4.5"/><circle cx="454.8" cy="511.6" r="4.5"/><circle cx="456.1" cy="511.8" r="4.5"/><circle cx="457.5" cy="512.0" r="4.5"/><circle cx="459.2" cy="511.9" r="4.5"/><circle cx="460.8" cy="512.0" r="4.5"/><circle cx="462.2" cy="511.8" r="4.5"/><circle cx="464.2" cy="512.1" r="4.5"/><circle cx="465.8" cy="512.4" r="4.5"/><circle cx="467.4" cy="512.4" r="4.5"/><circle cx="468.8" cy="512.2" r="4.5"/><circle cx="470.8" cy="512.4" r="4.5"/><circle cx="472.0" cy="511.8" r="4.5"/><circle cx="474.0" cy="511.8" r="4.5"/><circle cx="475.8" cy="512.4" r="4.5"/><circle cx="476.6" cy="511.8" r="4.5"/><circle cx="478.8" cy="511.8" r="4.5"/><circle cx="479.8" cy="512.4" r="4.5"/><circle cx="481.6" cy="512.4" r="4.5"/><circle cx="483.0" cy="511.9" r="4.5"/><circle cx="485.0" cy="511.5" r="4.5"/><circle cx="486.3" cy="512.2" r="4.5"/><circle cx="488.4" cy="512.5" r="4.5"/><circle cx="489.4" cy="512.0" r="4.5"/><circle cx="491.5" cy="512.0" r="4.5"/><circle cx="493.0" cy="511.8" r="4.5"/><circle cx="409.8" cy="508.4" r="4.5"/><circle cx="411.6" cy="509.0" r="4.5"/><circle cx="414.1" cy="509.0" r="4.5"/><circle cx="415.8" cy="508.5" r="4.5"/><circle cx="417.8" cy="509.3" r="4.5"/><circle cx="420.6" cy="509.4" r="4.5"/><circle cx="421.8" cy="508.4" r="4.5"/><circle cx="424.6" cy="508.9" r="4.5"/><circle cx="426.4" cy="508.8" r="4.5"/><circle cx="428.1" cy="508.9" r="4.5"/><circle cx="430.0" cy="509.0" r="4.5"/><circle cx="431.6" cy="509.1" r="4.5"/><circle cx="371.5" cy="510.9" r="4.5"/><circle cx="372.5" cy="511.4" r="4.5"/><circle cx="375.6" cy="510.8" r="4.5"/><circle cx="377.5" cy="510.8" r="4.5"/><circle cx="379.4" cy="511.0" r="4.5"/><circle cx="383.1" cy="511.1" r="4.5"/><circle cx="385.2" cy="512.4" r="4.5"/><circle cx="386.1" cy="511.3" r="4.5"/><circle cx="390.2" cy="512.4" r="4.5"/><circle cx="391.1" cy="510.9" r="4.5"/><circle cx="394.8" cy="510.8" r="4.5"/><circle cx="398.9" cy="512.8" r="4.5"/><circle cx="400.2" cy="512.9" r="4.5"/><circle cx="403.8" cy="512.1" r="4.5"/><circle cx="406.8" cy="511.4" r="4.5"/><circle cx="493.8" cy="512.4" r="4.5"/><circle cx="496.0" cy="510.9" r="4.5"/><circle cx="498.1" cy="511.4" r="4.5"/><circle cx="499.6" cy="512.5" r="4.5"/><circle cx="500.8" cy="511.4" r="4.5"/><circle cx="505.5" cy="512.0" r="4.5"/><circle cx="507.4" cy="512.0" r="4.5"/><circle cx="509.4" cy="512.6" r="4.5"/><circle cx="511.8" cy="512.4" r="4.5"/><circle cx="513.9" cy="512.9" r="4.5"/><circle cx="515.9" cy="511.2" r="4.5"/><circle cx="517.8" cy="512.1" r="4.5"/><circle cx="519.9" cy="511.8" r="4.5"/><circle cx="521.4" cy="511.6" r="4.5"/><circle cx="524.9" cy="511.4" r="4.5"/><circle cx="528.6" cy="512.4" r="4.5"/><circle cx="530.2" cy="511.3" r="4.5"/><circle cx="533.4" cy="511.8" r="4.5"/><circle cx="534.5" cy="511.5" r="4.5"/><circle cx="536.4" cy="513.0" r="4.5"/><circle cx="548.9" cy="512.8" r="4.5"/><circle cx="416.6" cy="494.6" r="4.5"/><circle cx="418.3" cy="498.8" r="4.5"/><circle cx="419.8" cy="502.5" r="4.5"/><circle cx="421.6" cy="489.1" r="4.5"/><circle cx="423.1" cy="497.5" r="4.5"/><circle cx="424.5" cy="501.6" r="4.5"/><circle cx="425.9" cy="489.6" r="4.5"/><circle cx="426.8" cy="494.1" r="4.5"/><circle cx="428.3" cy="498.9" r="4.5"/><circle cx="429.6" cy="503.1" r="4.5"/><circle cx="431.8" cy="490.3" r="4.5"/><circle cx="432.5" cy="499.3" r="4.5"/><circle cx="433.9" cy="503.8" r="4.5"/><circle cx="434.8" cy="491.9" r="4.5"/><circle cx="436.6" cy="498.8" r="4.5"/><circle cx="437.5" cy="502.8" r="4.5"/><circle cx="438.8" cy="489.5" r="4.5"/><circle cx="439.5" cy="496.5" r="4.5"/><circle cx="415.8" cy="500.8" r="4.5"/><circle cx="421.1" cy="505.8" r="4.5"/><circle cx="427.5" cy="505.9" r="4.5"/><circle cx="434.5" cy="486.3" r="4.5"/><circle cx="424.1" cy="486.8" r="4.5"/><circle cx="403.1" cy="490.6" r="4.5"/><circle cx="407.6" cy="491.1" r="4.5"/><circle cx="409.1" cy="496.1" r="4.5"/><circle cx="405.1" cy="497.1" r="4.5"/><circle cx="412.1" cy="491.6" r="4.5"/><circle cx="402.3" cy="493.3" r="4.5"/><circle cx="408.5" cy="488.8" r="4.5"/><circle cx="382.6" cy="501.3" r="4.5"/><circle cx="384.8" cy="502.1" r="4.5"/><circle cx="395.0" cy="497.9" r="4.5"/><circle cx="400.3" cy="501.3" r="4.5"/><circle cx="373.9" cy="509.3" r="4.5"/><circle cx="378.4" cy="507.0" r="4.5"/><circle cx="392.0" cy="508.1" r="4.5"/><circle cx="397.6" cy="508.1" r="4.5"/><circle cx="401.8" cy="508.5" r="4.5"/><circle cx="408.6" cy="504.0" r="4.5"/><circle cx="458.0" cy="497.2" r="4.5"/><circle cx="458.8" cy="500.2" r="4.5"/><circle cx="452.0" cy="504.8" r="4.5"/><circle cx="455.0" cy="504.8" r="4.5"/><circle cx="440.8" cy="504.8" r="4.5"/><circle cx="484.1" cy="497.1" r="4.5"/><circle cx="487.1" cy="499.6" r="4.5"/><circle cx="485.1" cy="503.1" r="4.5"/><circle cx="488.6" cy="504.6" r="4.5"/><circle cx="489.1" cy="496.1" r="4.5"/><circle cx="492.1" cy="506.6" r="4.5"/><circle cx="495.1" cy="508.1" r="4.5"/><circle cx="498.6" cy="509.1" r="4.5"/><circle cx="501.1" cy="507.1" r="4.5"/><circle cx="689.9" cy="102.7" r="4.5"/><circle cx="692.8" cy="102.7" r="4.5"/><circle cx="429.6" cy="478.1" r="4.5"/><circle cx="433.6" cy="481.6" r="4.5"/><circle cx="436.6" cy="477.6" r="4.5"/><circle cx="431.1" cy="484.1" r="4.5"/><circle cx="434.9" cy="475.8" r="4.5"/><circle cx="420.1" cy="480.6" r="4.5"/><circle cx="423.1" cy="476.6" r="4.5"/><circle cx="422.1" cy="484.1" r="4.5"/><circle cx="408.1" cy="470.6" r="4.5"/><circle cx="410.6" cy="474.6" r="4.5"/><circle cx="407.6" cy="478.1" r="4.5"/><circle cx="406.6" cy="490.6" r="4.5"/><circle cx="409.6" cy="494.6" r="4.5"/><circle cx="417.4" cy="491.9" r="4.5"/><circle cx="420.5" cy="496.2" r="4.5"/><circle cx="425.2" cy="492.4" r="4.5"/><circle cx="429.0" cy="495.8" r="4.5"/><circle cx="433.1" cy="495.0" r="4.5"/><circle cx="436.9" cy="492.8" r="4.5"/><circle cx="459.9" cy="495.0" r="4.5"/><circle cx="398.8" cy="459.8" r="4.5"/><circle cx="407.5" cy="461.5" r="4.5"/></g>
<rect x="72.8" y="464.7" width="156.8" height="66.7" rx="2.8" ry="2.8" fill="#fff" fill-opacity=".8" stroke="#ccc" stroke-opacity=".8" stroke-width="1.39"/>
<g class="pt" fill="url(#mr)"><circle cx="92.5" cy="477.4" r="4.5"/></g>
<g class="pt" fill="url(#mb)"><circle cx="92.5" cy="498.4" r="4.5"/></g>
<g class="pt" fill="url(#mg)"><circle cx="92.5" cy="519.3" r="4.5"/></g>
<text class="tx" y="479.55" font-size="14.4"><tspan x="116.69" textLength="85.89" lengthAdjust="spacingAndGlyphs">Upregulated</tspan></text>
<text class="tx" y="500.7" font-size="14.4"><tspan x="116.99" textLength="105.65" lengthAdjust="spacingAndGlyphs">Downregulated</tspan></text>
<text class="tx" y="521.65" font-size="14.4"><tspan x="116.99" textLength="24.56" lengthAdjust="spacingAndGlyphs">Not</tspan> <tspan x="145.70" textLength="73.56" lengthAdjust="spacingAndGlyphs">Significant</tspan></text>
</svg>
</body>
</html>
